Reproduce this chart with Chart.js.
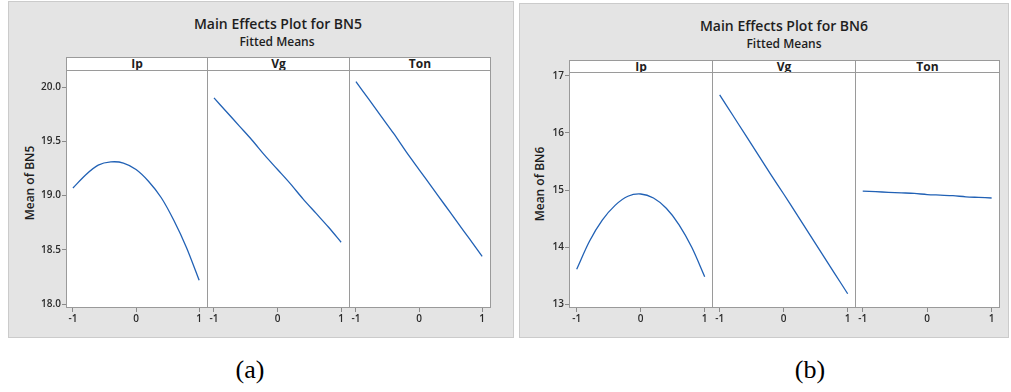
<!DOCTYPE html>
<html><head><meta charset="utf-8">
<script src="https://cdn.jsdelivr.net/npm/chart.js@4.4.0/dist/chart.umd.min.js"></script>
<style>
body{margin:0;width:1011px;height:392px;background:#fff;position:relative;overflow:hidden;font-family:"Open Sans",sans-serif;}
.box{position:absolute;background:#e4e4e4;border:1px solid #cbcbcb;box-sizing:border-box}
.t{position:absolute;white-space:nowrap;line-height:1;color:#1e1e1e;transform:translateX(-50%)}
.strip{position:absolute;background:#fff;border:1px solid #9a9a9a;box-sizing:border-box;display:flex;align-items:center;justify-content:center;font-weight:700;font-size:12px;color:#1e1e1e;line-height:1}
.ytitle{position:absolute;white-space:nowrap;line-height:1;font-size:12px;font-weight:600;color:#1e1e1e;transform:translate(-50%,-50%) rotate(-90deg)}
.cap{position:absolute;font-family:"Liberation Serif","Times New Roman",serif;font-size:26px;line-height:1;transform:translate(-50%,-50%);color:#000}
canvas{position:absolute}
</style>
</head><body>
<div class="box" style="left:8px;top:1px;width:506px;height:337px"></div>
<div class="box" style="left:519px;top:3px;width:490px;height:335px"></div>

<div class="t" style="left:278px;top:17px;font-size:14px;font-weight:600">Main Effects Plot for BN5</div>
<div class="t" style="left:277px;top:36px;font-size:12px;font-weight:600">Fitted Means</div>
<div class="t" style="left:784px;top:19px;font-size:14px;font-weight:600">Main Effects Plot for BN6</div>
<div class="t" style="left:784px;top:38px;font-size:12px;font-weight:600">Fitted Means</div>

<div class="strip" style="left:66px;top:57px;width:142px;height:14px">Ip</div>
<div class="strip" style="left:207px;top:57px;width:143px;height:14px">Vg</div>
<div class="strip" style="left:349px;top:57px;width:142px;height:14px">Ton</div>
<div class="strip" style="left:569px;top:60px;width:144px;height:13px">Ip</div>
<div class="strip" style="left:712px;top:60px;width:144px;height:13px">Vg</div>
<div class="strip" style="left:855px;top:60px;width:145px;height:13px">Ton</div>

<div class="ytitle" style="left:30px;top:183px">Mean of BN5</div>
<div class="ytitle" style="left:540px;top:184px">Mean of BN6</div>

<div class="cap" style="left:250px;top:370px">(a)</div>
<div class="cap" style="left:810px;top:370px">(b)</div>

<script>
// ---- data ----
const xLevels = [-1, -0.8, -0.6, -0.4, -0.2, 0, 0.2, 0.4, 0.6, 0.8, 1];
const xTicks = [-1, 0, 1];
const factors = ["Ip", "Vg", "Ton"];

const bn5Ip  = [19.07, 19.19, 19.28, 19.31, 19.30, 19.24, 19.13, 18.98, 18.77, 18.52, 18.22];
const bn5Vg  = [19.90, 19.77, 19.64, 19.51, 19.37, 19.24, 19.11, 18.97, 18.84, 18.71, 18.57];
const bn5Ton = [20.05, 19.89, 19.73, 19.57, 19.40, 19.24, 19.08, 18.92, 18.76, 18.60, 18.44];

const bn6Ip  = [13.61, 14.10, 14.47, 14.73, 14.89, 14.93, 14.86, 14.68, 14.39, 13.99, 13.48];
const bn6Vg  = [16.67, 16.32, 15.97, 15.62, 15.27, 14.93, 14.58, 14.23, 13.88, 13.53, 13.18];
const bn6Ton = [14.98, 14.97, 14.96, 14.95, 14.94, 14.92, 14.91, 14.90, 14.88, 14.87, 14.86];

const bn5Ticks = [18.0, 18.5, 19.0, 19.5, 20.0];
const bn6Ticks = [13, 14, 15, 16, 17];

// ---- drawing ----
const FONT = '"Open Sans", sans-serif';
const LINE = '#2161b5';
const TICKC = '#8a8a8a';
const PADTOP = 10;

const framePlugin = {
  id: 'frame',
  beforeDraw(c) {
    const a = c.chartArea, ctx = c.ctx;
    ctx.save(); ctx.fillStyle = '#fff';
    ctx.fillRect(a.left, a.top, a.right - a.left, a.bottom - a.top);
    ctx.restore();
  },
  afterDraw(c) {
    const a = c.chartArea, ctx = c.ctx;
    ctx.save(); ctx.strokeStyle = '#9a9a9a'; ctx.lineWidth = 1;
    ctx.strokeRect(a.left + 0.5, a.top + 0.5, a.right - a.left - 1, a.bottom - a.top - 1);
    ctx.restore();
  }
};

// plotTop: page y of the plot area's top edge
function panel(left, plotTop, width, yW, vals, yMin, yMax, yTicks, dec, xMin, xMax) {
  const top = plotTop - PADTOP;
  const height = 326 - top;
  const cv = document.createElement('canvas');
  cv.width = width; cv.height = height;
  cv.style.left = left + 'px'; cv.style.top = top + 'px';
  cv.style.width = width + 'px'; cv.style.height = height + 'px';
  document.body.appendChild(cv);
  const xAxisH = 326 - 308;
  new Chart(cv, {
    type: 'line',
    data: { datasets: [{ data: xLevels.map((x, i) => ({ x: x, y: vals[i] })),
      borderColor: LINE, borderWidth: 1.3, pointRadius: 0, tension: 0.3, fill: false }] },
    options: {
      responsive: false, animation: false, events: [], devicePixelRatio: 1,
      layout: { padding: { top: PADTOP, left: 0, right: 0, bottom: 0 } },
      plugins: { legend: { display: false }, tooltip: { enabled: false } },
      scales: {
        x: {
          type: 'linear', min: xMin, max: xMax,
          grid: { display: true, drawOnChartArea: false, drawTicks: true, tickLength: 4, color: TICKC },
          border: { display: false },
          ticks: { font: { family: FONT, size: 10, weight: '600' }, color: '#2a2a2a', padding: 1, maxRotation: 0, autoSkip: false,
                   callback: v => String(v) },
          afterBuildTicks: s => { s.ticks = xTicks.map(v => ({ value: v })); },
          afterFit: s => { s.height = xAxisH; s.paddingLeft = 0; s.paddingRight = 0; }
        },
        y: {
          display: yW > 0, min: yMin, max: yMax,
          grid: { display: true, drawOnChartArea: false, drawTicks: true, tickLength: 4, color: TICKC },
          border: { display: false },
          ticks: { font: { family: FONT, size: 10, weight: '600' }, color: '#2a2a2a', padding: 1,
                   callback: v => Number(v).toFixed(dec) },
          afterBuildTicks: s => { s.ticks = yTicks.map(v => ({ value: v })); },
          afterFit: s => { s.width = yW; s.paddingTop = 0; s.paddingBottom = 0; }
        }
      }
    },
    plugins: [framePlugin]
  });
}

// BN5
panel(30, 70, 178, 36, bn5Ip, 17.964, 20.157, bn5Ticks, 1, -1.11, 1.14);
panel(207, 70, 143, 0, bn5Vg, 17.964, 20.157, bn5Ticks, 1, -1.11, 1.14);
panel(349, 70, 142, 0, bn5Ton, 17.964, 20.157, bn5Ticks, 1, -1.11, 1.14);
// BN6
panel(535, 72, 178, 34, bn6Ip, 12.930, 17.070, bn6Ticks, 0, -1.12, 1.13);
panel(712, 72, 144, 0, bn6Vg, 12.930, 17.070, bn6Ticks, 0, -1.12, 1.13);
panel(855, 72, 145, 0, bn6Ton, 12.930, 17.070, bn6Ticks, 0, -1.12, 1.13);
</script>
</body></html>
